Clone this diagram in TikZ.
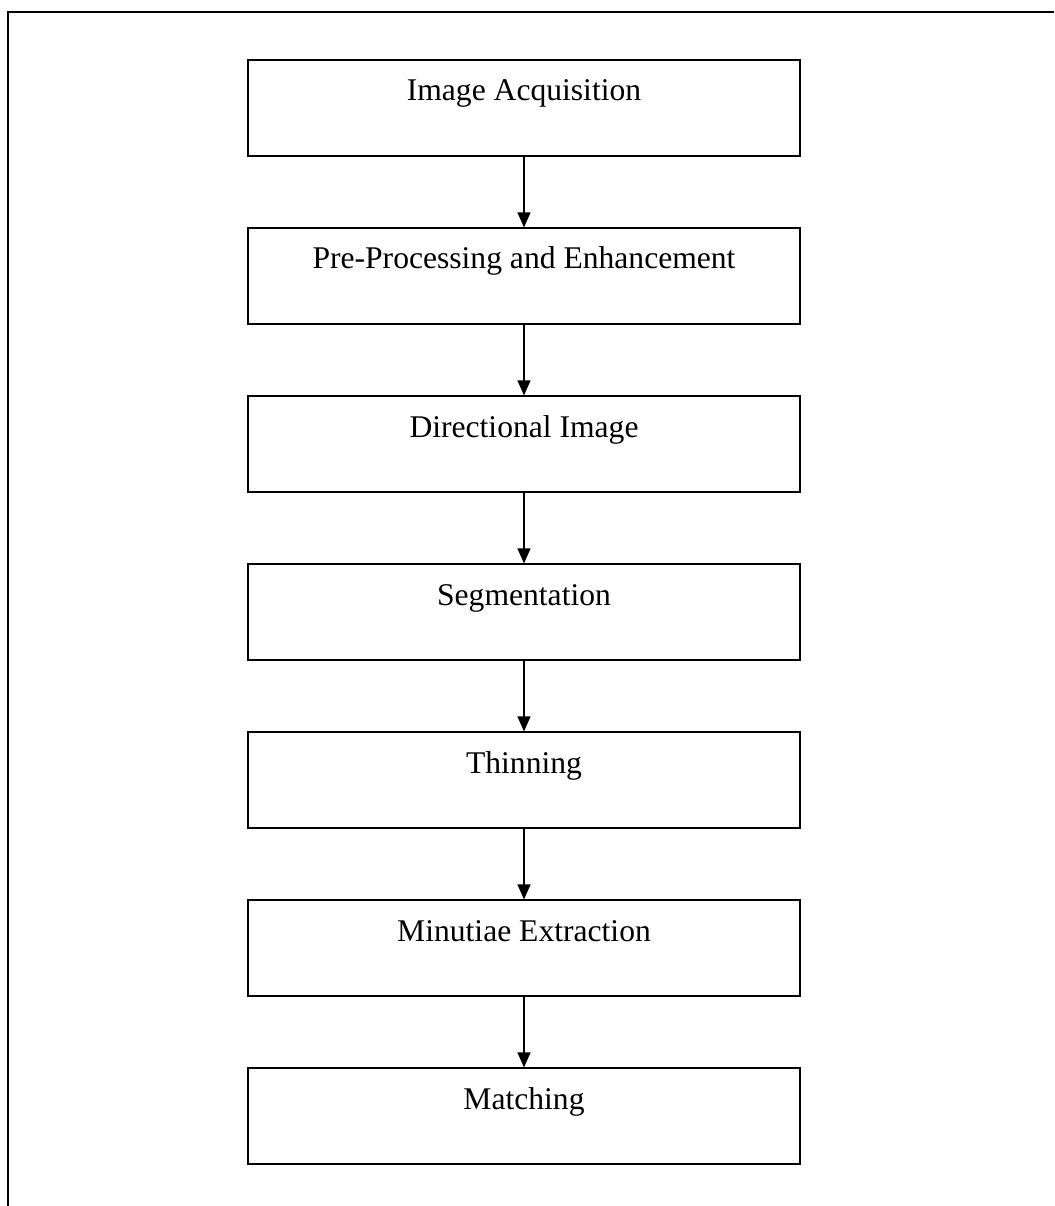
\documentclass[tikz,border=0pt]{standalone}
\usepackage{fontspec}
\setmainfont{Liberation Serif}
\usetikzlibrary{arrows.meta}
\begin{document}
\begin{tikzpicture}[x=1pt,y=-1pt, line width=1.2pt,
  stage/.style={draw,minimum width=552pt,inner xsep=0pt,inner ysep=0pt,text height=41pt,text depth=55pt,font=\fontsize{31.6}{38}\selectfont},
  flow/.style={line width=1.3pt,-{Triangle[length=15pt,width=13pt]}}]
\useasboundingbox (0,0) rectangle (1054,1206);
\draw (8,1206) -- (8,12) -- (1054,12);
\node[stage] (acq) at (524,108) {Image Acquisition};
\node[stage] (pre) at (524,276) {Pre-Processing and Enhancement};
\node[stage] (dir) at (524,444) {Directional Image};
\node[stage] (seg) at (524,612) {Segmentation};
\node[stage] (thin) at (524,780) {Thinning};
\node[stage] (mext) at (524,948) {Minutiae Extraction};
\node[stage] (match) at (524,1116) {Matching};
\draw[flow] (acq) -- (pre);
\draw[flow] (pre) -- (dir);
\draw[flow] (dir) -- (seg);
\draw[flow] (seg) -- (thin);
\draw[flow] (thin) -- (mext);
\draw[flow] (mext) -- (match);
\end{tikzpicture}
\end{document}
